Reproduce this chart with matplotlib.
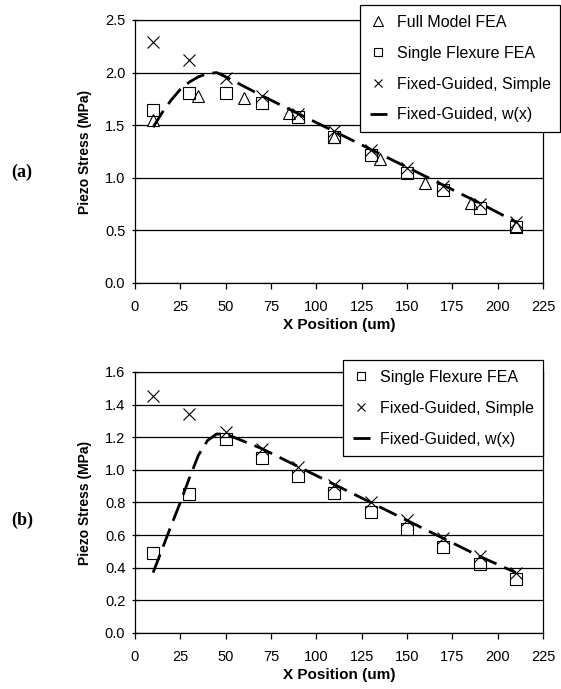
import numpy as np
import matplotlib.pyplot as plt
from matplotlib.ticker import MultipleLocator, FormatStrFormatter

plt.rcParams['font.family'] = ['Liberation Sans', 'DejaVu Sans']

# ---- panel (a) data ----
xSimple = [10, 30, 50, 70, 90, 110, 130, 150, 170, 190, 210]
aSimple = [2.29, 2.12, 1.95, 1.78, 1.61, 1.44, 1.26, 1.09, 0.92, 0.75, 0.58]
aSingle = [1.64, 1.81, 1.81, 1.71, 1.58, 1.39, 1.22, 1.05, 0.88, 0.71, 0.53]
xFull = [10, 35, 60, 85, 110, 135, 160, 185, 210]
aFull = [1.55, 1.78, 1.76, 1.62, 1.39, 1.18, 0.95, 0.76, 0.54]
xLineA = [10, 15, 20, 25, 30, 35, 40, 45, 50, 70, 90, 110, 130, 150, 170, 190, 210]
aLine = [1.48, 1.62, 1.74, 1.84, 1.91, 1.96, 1.99, 2.00, 1.96, 1.78, 1.61, 1.44, 1.27, 1.10, 0.93, 0.76, 0.58]

# ---- panel (b) data ----
bSimple = [1.45, 1.34, 1.23, 1.13, 1.02, 0.91, 0.80, 0.69, 0.58, 0.47, 0.37]
bSingle = [0.49, 0.85, 1.19, 1.07, 0.96, 0.86, 0.74, 0.64, 0.53, 0.42, 0.33]
xLineB = [10, 20, 25, 30, 35, 40, 45, 50, 70, 90, 110, 130, 150, 170, 190, 210]
bLine = [0.37, 0.66, 0.80, 0.95, 1.09, 1.18, 1.22, 1.22, 1.13, 1.02, 0.91, 0.80, 0.69, 0.58, 0.47, 0.37]

xTicks = [0, 25, 50, 75, 100, 125, 150, 175, 200, 225]


def styleAxis(ax, ymax, ystep):
    ax.set_xlim(0, 225)
    ax.set_ylim(0, ymax)
    ax.set_xticks(xTicks)
    ax.yaxis.set_major_locator(MultipleLocator(ystep))
    ax.yaxis.set_major_formatter(FormatStrFormatter('%.1f'))
    ax.grid(axis='y', color='black', linewidth=0.9)
    ax.set_axisbelow(True)
    for s in ax.spines.values():
        s.set_color('black')
        s.set_linewidth(0.9)
    ax.tick_params(axis='both', labelsize=10.5, colors='black', length=4, width=0.9)
    ax.tick_params(axis='y', direction='inout', pad=5)
    ax.tick_params(axis='x', direction='out', pad=8)
    ax.set_xlabel('X Position (um)', fontsize=11, fontweight='bold', labelpad=3)
    ax.set_ylabel('Piezo Stress (MPa)', fontsize=10, fontweight='bold', labelpad=9)


def makeLegend(ax, x0, y0):
    leg = ax.legend(loc='upper left', bbox_to_anchor=(x0 / 561, 1 - y0 / 689),
                    bbox_transform=fig.transFigure, fontsize=11.5, numpoints=1,
                    markerscale=0.8, handlelength=1.1, handletextpad=0.6,
                    labelspacing=1.0, borderpad=0.6, borderaxespad=0,
                    fancybox=False, framealpha=1, edgecolor='black')
    leg.get_frame().set_linewidth(0.9)
    return leg


fig = plt.figure(figsize=(5.61, 6.89), dpi=100)
axA = fig.add_axes([0.2406, 0.5893, 0.7274, 0.3817])
axB = fig.add_axes([0.2406, 0.0813, 0.7274, 0.3788])

# panel (a)
axA.plot(xFull, aFull, linestyle='none', marker='^', markersize=9,
         markerfacecolor='white', markeredgecolor='black', markeredgewidth=0.8,
         label='Full Model FEA')
axA.plot(xSimple, aSingle, linestyle='none', marker='s', markersize=8,
         markerfacecolor='none', markeredgecolor='black', markeredgewidth=0.8,
         label='Single Flexure FEA')
axA.plot(xSimple, aSimple, linestyle='none', marker='x', markersize=8,
         color='black', markeredgewidth=0.8, label='Fixed-Guided, Simple')
axA.plot(xLineA, aLine, color='black', linewidth=2, dashes=(7, 3),
         label='Fixed-Guided, w(x)')
styleAxis(axA, 2.5, 0.5)
makeLegend(axA, 360, 5)

# panel (b)
axB.plot(xSimple, bSingle, linestyle='none', marker='s', markersize=8,
         markerfacecolor='none', markeredgecolor='black', markeredgewidth=0.8,
         label='Single Flexure FEA')
axB.plot(xSimple, bSimple, linestyle='none', marker='x', markersize=8,
         color='black', markeredgewidth=0.8, label='Fixed-Guided, Simple')
axB.plot(xLineB, bLine, color='black', linewidth=2, dashes=(7, 3),
         label='Fixed-Guided, w(x)')
styleAxis(axB, 1.6, 0.2)
makeLegend(axB, 343, 360)

# panel labels
fig.text(22 / 561, 1 - 172 / 689, '(a)', fontsize=13, fontweight='bold',
         family='Liberation Serif', ha='center', va='center')
fig.text(22 / 561, 1 - 520 / 689, '(b)', fontsize=13, fontweight='bold',
         family='Liberation Serif', ha='center', va='center')

fig.savefig('out.png', dpi=100)
